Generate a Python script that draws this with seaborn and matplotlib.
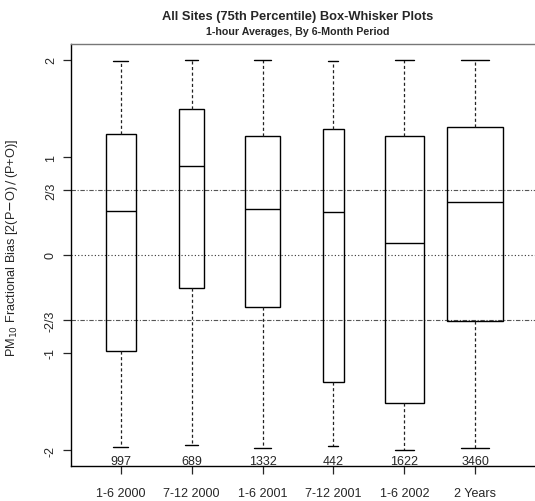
import matplotlib

matplotlib.use("Agg")
import matplotlib.pyplot as plt
import numpy as np
import seaborn as sns

sns.set_style("ticks")
plt.rcParams["font.family"] = ["Liberation Sans", "DejaVu Sans"]

# --- datos -----------------------------------------------------------------
periodos = ["1-6 2000", "7-12 2000", "1-6 2001", "7-12 2001", "1-6 2002", "2 Years"]
n_obs = [997, 689, 1332, 442, 1622, 3460]
bigote_inf = [-1.97, -1.95, -1.98, -1.96, -2.00, -1.975]
q1 = [-0.98, -0.335, -0.53, -1.295, -1.51, -0.68]
mediana = [0.455, 0.91, 0.47, 0.44, 0.12, 0.54]
q3 = [1.24, 1.49, 1.22, 1.29, 1.22, 1.31]
bigote_sup = [1.99, 2.00, 2.00, 1.99, 2.00, 2.00]

y_ticks = [-2, -1, -2 / 3, 0, 2 / 3, 1, 2]
y_ticklabels = ["-2", "-1", "-2/3", "0", "2/3", "1", "2"]

fig = plt.figure(figsize=(5.35, 5.02), dpi=100)
ax = fig.add_axes([70.5 / 535, 1 - 467 / 502, 1 - 70.5 / 535, (467 - 45) / 502])

pos = np.arange(1, len(periodos) + 1)
stats = [
    dict(whislo=lo, q1=a, med=m, q3=b, whishi=hi, fliers=[])
    for lo, a, m, b, hi in zip(bigote_inf, q1, mediana, q3, bigote_sup)
]
# ancho de caja proporcional a sqrt(n), como varwidth en R
anchos = 0.8 * np.sqrt(np.array(n_obs) / max(n_obs))

# lineas de referencia
ax.axhline(0, color="#333333", lw=0.8, ls=(0, (1, 2)), zorder=1)
for v in (2 / 3, -2 / 3):
    ax.axhline(v, color="#555555", lw=0.8, ls=(0, (4, 1.5, 1, 1.5)), zorder=1)

ax.bxp(
    stats, positions=pos, widths=anchos, showfliers=False, patch_artist=True,
    boxprops=dict(facecolor="none", edgecolor="black", lw=1.0),
    medianprops=dict(color="black", lw=1.0),
    whiskerprops=dict(color="#222222", lw=0.9, ls=(0, (2.5, 2))),
    capprops=dict(color="black", lw=1.0), capwidths=anchos * 0.5,
    zorder=2,
)

for x, n in zip(pos, n_obs):
    ax.text(x, -2.11, str(n), ha="center", va="center", fontsize=9)

ax.set_xlim(0.29, 6.845)
ax.set_ylim(-2.16, 2.16)
ax.set_xticks(pos)
ax.set_xticklabels(periodos, fontsize=9)
ax.set_yticks(y_ticks)
ax.set_yticklabels(y_ticklabels, fontsize=9, rotation=90, va="center")
ax.tick_params(axis="x", length=5.8, pad=9, width=0.9)
ax.tick_params(axis="y", length=5.8, pad=4, width=0.9)
ax.spines["right"].set_visible(False)
for s in ("top", "left", "bottom"):
    ax.spines[s].set_linewidth(1.0)
    ax.spines[s].set_color("black")
ax.spines["top"].set_color("#777777")

ax.set_ylabel("PM$_{10}$ Fractional Bias [2(P$-$O)$\\,/\\,$(P+O)]", fontsize=9.2)
ax.yaxis.set_label_coords(-0.109, 0.519)
ax.set_xlabel("")

fig.text(298 / 535, 1 - 17 / 502, "All Sites (75th Percentile) Box-Whisker Plots",
         ha="center", va="center", fontsize=9.3, fontweight="bold")
fig.text(298 / 535, 1 - 32 / 502, "1-hour Averages, By 6-Month Period",
         ha="center", va="center", fontsize=7.7, fontweight="bold")

fig.savefig("out.png", dpi=100)
